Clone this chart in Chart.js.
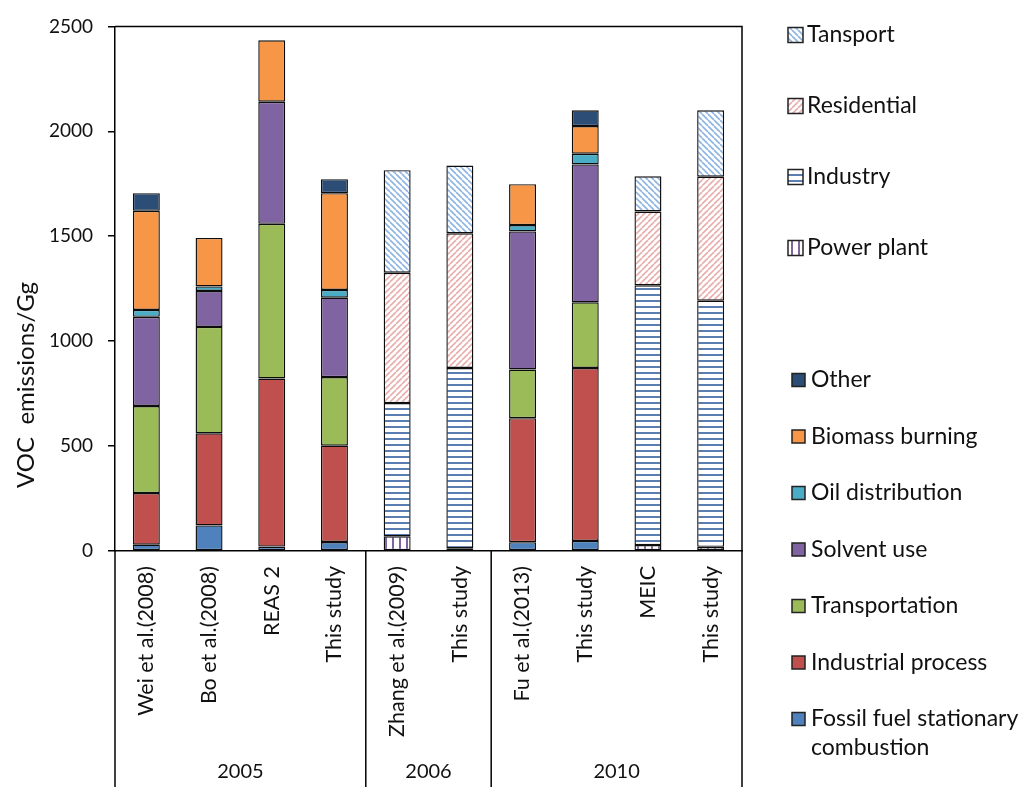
<!DOCTYPE html>
<html>
<head>
<meta charset="utf-8">
<title>VOC emissions</title>
<script src="https://cdn.jsdelivr.net/npm/chart.js@4.4.1/dist/chart.umd.min.js"></script>
<style>
  html, body { margin: 0; padding: 0; background: #fff; }
</style>
</head>
<body>
<canvas id="vocChart" width="1023" height="787"></canvas>
<script>
const categories = ['Wei et al.(2008)', 'Bo et al.(2008)', 'REAS 2', 'This study', 'Zhang et al.(2009)', 'This study', 'Fu et al.(2013)', 'This study', 'MEIC', 'This study'];
const years = ['2005', '2006', '2010'];
const yearSpans = [4, 2, 4];
const yTicks = [0, 500, 1000, 1500, 2000, 2500];
const yTitle = 'VOC  emissions/Gg';

// by source (Gg)
const fossilFuel = [30, 122, 21, 43, null, null, 42, 48, null, null];
const industrialProcess = [246, 439, 801, 459, null, null, 591, 824, null, null];
const transportation = [415, 507, 737, 327, null, null, 232, 313, null, null];
const solventUse = [425, 171, 582, 378, null, null, 658, 657, null, null];
const oilDistribution = [33, 22, null, 37, null, null, 30, 51, null, null];
const biomassBurning = [472, 231, 293, 461, null, null, 195, 132, null, null];
const other = [84, null, null, 67, null, null, null, 75, null, null];

// by sector (Gg)
const powerPlant = [null, null, null, null, 70, 13, null, null, 28, 20];
const industry = [null, null, null, null, 635, 859, null, null, 1238, 1173];
const residential = [null, null, null, null, 621, 642, null, null, 352, 591];
const transport = [null, null, null, null, 489, 323, null, null, 168, 316];

const FONT = 'Lato, "Open Sans", sans-serif';
const TEXT = '#111';
Chart.defaults.font.family = FONT;
Chart.defaults.color = TEXT;

// hatch fills for the sector bars
function makePattern(kind, color) {
    const c = document.createElement('canvas');
    const s = kind === 'vertical' ? 7 : 6;
    c.width = s; c.height = s;
    const g = c.getContext('2d');
    g.fillStyle = '#fff';
    g.fillRect(0, 0, s, s);
    g.strokeStyle = color;
    g.fillStyle = color;
    g.lineWidth = 1.6;
    if (kind === 'back') {
        for (const o of [-s, 0, s]) {
            g.beginPath(); g.moveTo(o, 0); g.lineTo(o + s, s); g.stroke();
        }
    } else if (kind === 'fwd') {
        for (const o of [-s, 0, s]) {
            g.beginPath(); g.moveTo(o, s); g.lineTo(o + s, 0); g.stroke();
        }
    } else if (kind === 'horizontal') {
        g.fillRect(0, 0, s, 2);
    } else {
        g.fillRect(0, 0, 2, s);
    }
    return g.createPattern(c, 'repeat');
}

const bar = (label, data, fill) => ({
    label, data,
    backgroundColor: fill,
    borderColor: '#0d0d0d',
    borderWidth: 1.4,
    borderSkipped: false,
    barPercentage: 0.43,
    categoryPercentage: 1
});

const datasets = [
    bar('Fossil fuel stationary combustion', fossilFuel, '#4F81BD'),
    bar('Industrial process', industrialProcess, '#C0504D'),
    bar('Transportation', transportation, '#9BBB59'),
    bar('Solvent use', solventUse, '#8064A2'),
    bar('Oil distribution', oilDistribution, '#4BACC6'),
    bar('Biomass burning', biomassBurning, '#F79646'),
    bar('Other', other, '#2C4D75'),
    bar('Power plant', powerPlant, makePattern('vertical', '#8064A2')),
    bar('Industry', industry, makePattern('horizontal', '#5A7DB2')),
    bar('Residential', residential, makePattern('fwd', '#E8AEAC')),
    bar('Tansport', transport, makePattern('back', '#8DB4E2'))
];

// right-hand legend in two blocks, like the original
const sideLegend = {
    id: 'sideLegend',
    afterDraw(chart) {
        const ctx = chart.ctx;
        const ds = chart.data.datasets;
        const blocks = [
            { idx: [10, 9, 8, 7], y0: 35, step: 71, box: 15, bx: 788, tx: 807 },
            { idx: [6, 5, 4, 3, 2, 1, 0], y0: 380, step: 56.5, box: 13, bx: 792, tx: 811 }
        ];
        ctx.save();
        ctx.font = '23px ' + FONT;
        ctx.textBaseline = 'middle';
        blocks.forEach(b => {
            b.idx.forEach((di, k) => {
                const y = b.y0 + k * b.step;
                ctx.fillStyle = ds[di].backgroundColor;
                ctx.fillRect(b.bx, y - b.box / 2, b.box, b.box);
                ctx.strokeStyle = '#222';
                ctx.lineWidth = 1.5;
                ctx.strokeRect(b.bx, y - b.box / 2, b.box, b.box);
                ctx.fillStyle = TEXT;
                // wrap long labels
                const words = ds[di].label.split(' ');
                const lines = [];
                let line = '';
                words.forEach(w => {
                    const t = line ? line + ' ' + w : w;
                    if (ctx.measureText(t).width > chart.width - b.tx && line) {
                        lines.push(line); line = w;
                    } else line = t;
                });
                lines.push(line);
                lines.forEach((l, j) => ctx.fillText(l, b.tx, y + j * 29));
            });
        });
        ctx.restore();
    }
};

// frame on top/right, year separators, year labels and the y title
const frameAndGroups = {
    id: 'frameAndGroups',
    afterDraw(chart) {
        const { ctx, chartArea: a } = chart;
        const x = chart.scales.x;
        const half = (x.getPixelForValue(1) - x.getPixelForValue(0)) / 2;
        ctx.save();
        ctx.strokeStyle = '#000';
        ctx.lineWidth = 1.5;
        ctx.beginPath();
        ctx.moveTo(a.left, a.top);
        ctx.lineTo(a.right, a.top);
        ctx.lineTo(a.right, chart.height);
        ctx.stroke();
        ctx.font = '20px ' + FONT;
        ctx.fillStyle = TEXT;
        ctx.textAlign = 'center';
        ctx.textBaseline = 'middle';
        let start = 0;
        years.forEach((yr, i) => {
            const end = start + yearSpans[i] - 1;
            const x0 = x.getPixelForValue(start) - half;
            const x1 = x.getPixelForValue(end) + half;
            ctx.beginPath();
            ctx.moveTo(x0, a.bottom);
            ctx.lineTo(x0, chart.height);
            ctx.stroke();
            ctx.fillText(yr, (x0 + x1) / 2, 772);
            start += yearSpans[i];
        });
        // axis title sits low in the original, not centred on the axis
        ctx.font = '24px ' + FONT;
        ctx.translate(26, 385);
        ctx.rotate(-Math.PI / 2);
        ctx.fillText(yTitle, 0, 0);
        ctx.restore();
    }
};

const ctx = document.getElementById('vocChart').getContext('2d');
new Chart(ctx, {
    type: 'bar',
    data: { labels: categories, datasets },
    options: {
        responsive: false,
        animation: false,
        devicePixelRatio: 1,
        layout: { padding: { top: 18, right: 281, left: 0, bottom: 0 } },
        plugins: { legend: { display: false }, tooltip: { enabled: false } },
        scales: {
            x: {
                stacked: true,
                grid: { display: true, drawOnChartArea: false, drawTicks: false },
                border: { color: '#000', width: 1.5 },
                ticks: { minRotation: 90, maxRotation: 90, autoSkip: false, padding: 15, font: { size: 21.5 } },
                afterFit: s => { s.height = 236; }
            },
            y: {
                stacked: true,
                min: 0,
                max: 2500,
                afterBuildTicks: s => { s.ticks = yTicks.map(v => ({ value: v })); },
                grid: { drawOnChartArea: false, drawTicks: true, tickLength: 7, color: '#000', lineWidth: 1.5 },
                border: { color: '#000', width: 1.5 },
                ticks: { padding: 15, font: { size: 19 }, callback: v => String(v) },
                afterFit: s => { s.width = 115; }
            }
        }
    },
    plugins: [frameAndGroups, sideLegend]
});
</script>
</body>
</html>
